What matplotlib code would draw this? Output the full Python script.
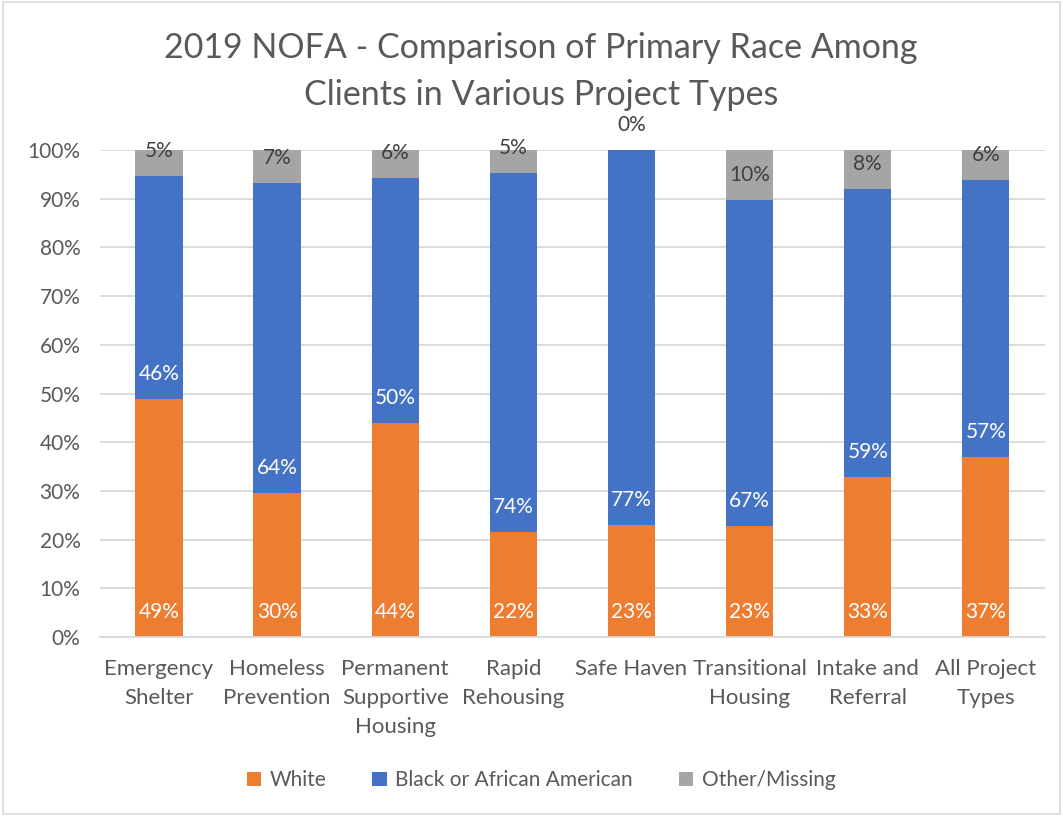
# Stacked percent bars: primary race by project type (2019 NOFA).
import matplotlib
matplotlib.use("Agg")
import matplotlib.pyplot as plt
from matplotlib.patches import Rectangle
import numpy as np

categories = ["Emergency\nShelter", "Homeless\nPrevention", "Permanent\nSupportive\nHousing",
              "Rapid\nRehousing", "Safe Haven", "Transitional\nHousing",
              "Intake and\nReferral", "All Project\nTypes"]
white = [48.9, 29.6, 43.9, 21.6, 22.9, 22.8, 32.9, 36.9]
black = [45.8, 63.6, 50.3, 73.6, 77.1, 67.0, 59.1, 56.9]
other = [5.3, 6.8, 5.8, 4.8, 0.0, 10.2, 8.0, 6.2]
series_names = ["White", "Black or African American", "Other/Missing"]
yticks = [0, 10, 20, 30, 40, 50, 60, 70, 80, 90, 100]

colors = ["#ED7D31", "#4472C4", "#A5A5A5"]
label_colors = ["white", "white", "#404040"]
font = "Lato"

fig = plt.figure(figsize=(10.63, 8.17), dpi=100)
ax = fig.add_axes([0.094, 0.2203, 0.889, 0.5961])

x = np.arange(len(categories))
bottom = np.zeros(len(categories))
for vals, name, col, lcol in zip([white, black, other], series_names, colors, label_colors):
    vals = np.array(vals)
    ax.bar(x, vals, 0.4, bottom=bottom, color=col, label=name, zorder=2)
    for xi, b, v in zip(x, bottom, vals):
        # Excel "inside base" style label
        ax.annotate(f"{v:.0f}%", xy=(xi, b), xytext=(0, 18), textcoords="offset points",
                    ha="center", va="center", fontsize=15, color=lcol if v > 0 else "#404040",
                    family=font, annotation_clip=False, zorder=3)
    bottom = bottom + vals

ax.set_xlim(-0.5, len(categories) - 0.5)
ax.set_ylim(0, 100)
ax.set_yticks(yticks)
ax.set_yticklabels([f"{t}%" for t in yticks], family=font, fontsize=15, color="#595959")
ax.set_xticks(x)
ax.set_xticklabels(categories, family=font, fontsize=16, color="#595959", linespacing=1.55)
ax.tick_params(axis="x", length=0, pad=16)
ax.tick_params(axis="y", length=0, pad=14)
ax.grid(axis="y", color="#D9D9D9", linewidth=1.3, zorder=0)
for s in ["top", "right", "left"]:
    ax.spines[s].set_visible(False)
ax.spines["bottom"].set_color("#D9D9D9")
ax.spines["bottom"].set_linewidth(1.3)

fig.text(0.509, 0.9125, "2019 NOFA - Comparison of Primary Race Among\nClients in Various Project Types",
         ha="center", va="center", fontsize=24.5, color="#595959", family=font,
         linespacing=1.6)

leg = fig.legend(loc="center", bbox_to_anchor=(0.509, 0.045), ncol=3, frameon=False,
                 prop={"family": font, "size": 15}, handlelength=0.7, handleheight=0.7,
                 handletextpad=0.4, columnspacing=2.2)
for t in leg.get_texts():
    t.set_color("#595959")

fig.patches.append(Rectangle((0.003, 0.004), 0.994, 0.993, transform=fig.transFigure,
                             fill=False, edgecolor="#D9D9D9", linewidth=1.2))

fig.savefig("out.png", dpi=100)
